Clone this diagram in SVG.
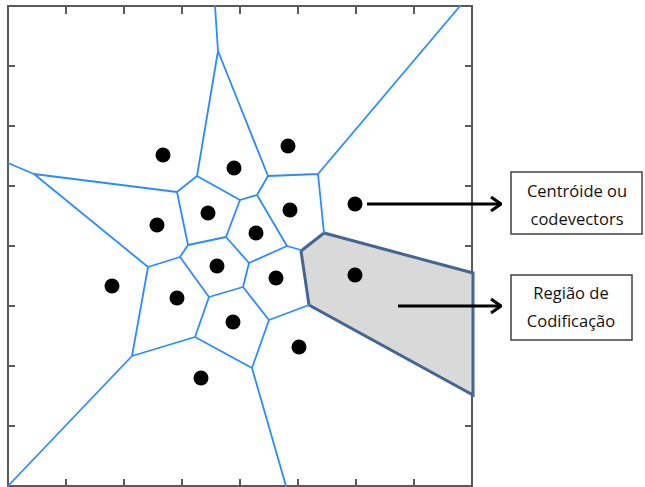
<svg xmlns="http://www.w3.org/2000/svg" width="645" height="487" viewBox="0 0 645 487">
  <style>
    .frame { fill: none; stroke: #5a5a5a; stroke-width: 2; }
    .tick { stroke: #5a5a5a; stroke-width: 2; }
    .edge { stroke: #2b8cff; stroke-width: 1.8; fill: none; stroke-linecap: round; }
    .region { fill: #d9d9d9; stroke: #44668f; stroke-width: 3; stroke-linejoin: miter; }
    .site { fill: #000; }
    .arrow { stroke: #000; stroke-width: 3; fill: none; marker-end: url(#chev); }
    .box { fill: #fff; stroke: #404040; stroke-width: 1.5; }
    .label { font-family: "Open Sans", "Liberation Sans", sans-serif; font-size: 16.5px; fill: #111; text-anchor: middle; }
  </style>
  <defs>
    <marker id="chev" viewBox="0 0 12 16" refX="11" refY="8" markerWidth="12" markerHeight="16" markerUnits="userSpaceOnUse" orient="auto">
      <path d="M1,1 L11,8 L1,15" fill="none" stroke="#000" stroke-width="3"/>
    </marker>
  </defs>

  <rect x="0" y="0" width="645" height="487" fill="#fff"/>

  <!-- plot axes -->
  <g id="axes">
    <rect class="frame" x="8" y="6" width="464" height="480"/>
    <path class="tick" d="M66,6v8 M124,6v8 M182,6v8 M240,6v8 M298,6v8 M356,6v8 M414,6v8
      M66,486v-7 M124,486v-7 M182,486v-7 M240,486v-7 M298,486v-7 M356,486v-7 M414,486v-7
      M8,66h7 M8,126h7 M8,186h7 M8,246h7 M8,306h7 M8,366h7 M8,426h7
      M472,66h-7 M472,126h-7 M472,186h-7 M472,246h-7 M472,306h-7 M472,366h-7 M472,426h-7"/>
  </g>

  <!-- highlighted coding region -->
  <g id="coding-region">
    <polygon class="region" points="324,233 301,251 309,305 473,395 473,273"/>
  </g>

  <!-- Voronoi cell boundaries -->
  <g id="connectors">
    <path class="edge" d="
      M215,6 L218,51 M218,51 L197,176 M218,51 L268,176
      M460,6 L318,174
      M8,163 L34,174 M34,174 L177,192 M34,174 L148,267
      M177,192 L197,176 M197,176 L240,200
      M177,192 L188,245 M188,245 L226,237 M226,237 L240,200
      M188,245 L180,257 M180,257 L148,267 M180,257 L209,297
      M148,267 L132,356 M132,356 L8,486 M132,356 L195,337
      M195,337 L209,297 M195,337 L252,368 M252,368 L269,320 M252,368 L286,486
      M268,176 L318,174 M268,176 L257,195 M257,195 L240,200
      M257,195 L287,246 M287,246 L301,250
      M318,174 L324,233
      M226,237 L249,263 M249,263 L287,246 M249,263 L243,287
      M243,287 L209,297 M243,287 L269,320 M269,320 L309,305"/>
  </g>

  <!-- centroids -->
  <g id="centroids">
    <circle class="site" cx="163" cy="155" r="7.5"/>
    <circle class="site" cx="234" cy="168" r="7.5"/>
    <circle class="site" cx="288" cy="146" r="7.5"/>
    <circle class="site" cx="355" cy="204" r="7.5"/>
    <circle class="site" cx="157" cy="225" r="7.5"/>
    <circle class="site" cx="208" cy="213" r="7.5"/>
    <circle class="site" cx="290" cy="210" r="7.5"/>
    <circle class="site" cx="256" cy="233" r="7.5"/>
    <circle class="site" cx="217" cy="266" r="7.5"/>
    <circle class="site" cx="112" cy="286" r="7.5"/>
    <circle class="site" cx="177" cy="298" r="7.5"/>
    <circle class="site" cx="276" cy="278" r="7.5"/>
    <circle class="site" cx="355" cy="275" r="7.5"/>
    <circle class="site" cx="233" cy="322" r="7.5"/>
    <circle class="site" cx="299" cy="347" r="7.5"/>
    <circle class="site" cx="201" cy="378" r="7.5"/>
  </g>

  <!-- callout arrows -->
  <g id="callouts">
    <line class="arrow" x1="367" y1="204" x2="501" y2="204"/>
    <line class="arrow" x1="398" y1="306" x2="501" y2="306"/>
  </g>

  <g id="label-centroid">
    <rect class="box" x="511" y="172" width="131" height="62"/>
    <text class="label" x="577" y="197">Centróide ou</text>
    <text class="label" x="577" y="225">codevectors</text>
  </g>

  <g id="label-region">
    <rect class="box" x="511" y="275" width="121" height="65"/>
    <text class="label" x="571" y="299">Região de</text>
    <text class="label" x="571" y="327">Codificação</text>
  </g>
</svg>
